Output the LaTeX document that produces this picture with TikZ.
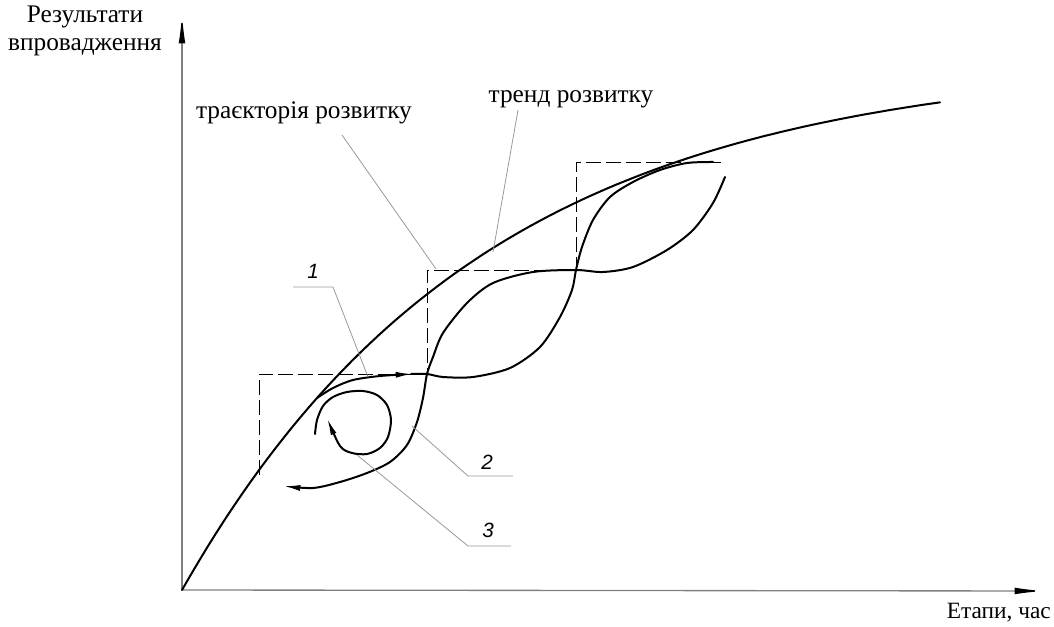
\documentclass[tikz,border=0pt]{standalone}
\usepackage{fontspec}
\setmainfont{Liberation Serif}
\newfontfamily\numfont{Liberation Sans}
\usetikzlibrary{arrows.meta}

\begin{document}
\begin{tikzpicture}[x=0.75pt, y=-0.75pt,
    curve/.style={line width=1.5pt, line join=round, line cap=round},
    leader/.style={gray!80, line width=0.6pt},
    axis/.style={gray, line width=1pt},
    stepline/.style={line width=0.7pt, dash pattern=on 11pt off 4pt},
    lbl/.style={font=\fontsize{19}{20.5}\selectfont, inner sep=0pt},
    num/.style={font=\numfont\itshape\fontsize{15.5}{17}\selectfont, inner sep=0pt},
    tip/.style={-{Latex[length=13pt, width=4.5pt]}}]
        \useasboundingbox (0,0) rectangle (1054,627);

        % Axes
        \coordinate (O) at (182,590);
        \coordinate (ytop) at (182,14);
        \coordinate (xend) at (1044,591);
        \draw[axis, -{Latex[length=22pt, width=5pt, color=black]}] (O) -- (ytop);
        \draw[axis, -{Latex[length=22pt, width=5pt, color=black]}] (O) -- (xend);
        \node[lbl, align=center] (ylab) at (85,31) {Результати\\впровадження};
        \node[lbl, font=\fontsize{17.5}{19}\selectfont, anchor=east] (xlab) at (1051,613) {Етапи, час};

        % Stages
        \draw[stepline] (259,475) -- (259,374) -- (427,374) -- (427,270)
            -- (576,270) -- (576,162) -- (722,162);

        % Trend
        \draw[curve] plot[domain=182:940, samples=90]
            (\x, {590-530*(1-exp(-(\x-182)/300))});

        % Trajectory 1
        \draw[curve, tip] plot[smooth] coordinates {(317,398) (333,388) (353,380)
            (380,376) (413,374)};
        \draw[curve] plot[smooth] coordinates {(411,374) (427,374) (443,377)
            (473,377) (510,368) (540,347) (560,317) (572,290) (576,270) (582,247)
            (593,220) (610,197) (633,182) (660,170) (687,163) (713,162)};

        % Trajectory 2
        \draw[curve, tip] plot[smooth] coordinates {(725,177) (713,203) (693,230)
            (667,250) (633,267) (603,272) (576,270) (533,272) (493,283) (467,303)
            (443,333) (433,357) (427,374) (423,398) (417,422) (407,445) (390,462)
            (367,473) (340,482) (313,488) (283,486)};

        % Loop 3
        \draw[curve, tip] plot[smooth] coordinates {(315,434) (317,420) (323,406)
            (333,397) (347,392) (363,391) (377,395) (387,405) (391,420) (388,437)
            (380,448) (367,454) (352,453) (340,446) (327,418)};

        % Labels
        \node[lbl] (trajlab) at (304,113) {траєкторія розвитку};
        \node[lbl] (trendlab) at (571,99) {тренд розвитку};
        \node[num] (n1) at (313,271) {1};
        \node[num] (n2) at (487,462) {2};
        \node[num] (n3) at (488,530) {3};

        \coordinate (trajA) at (342,135);
        \coordinate (trajB) at (436,269);
        \coordinate (trendA) at (518,110);
        \coordinate (trendB) at (493,252);
        \coordinate (s1) at (293,287);
        \coordinate (k1) at (333,287);
        \coordinate (e1) at (368,377);
        \coordinate (s2) at (513,476);
        \coordinate (k2) at (468,476);
        \coordinate (e2) at (412,426);
        \coordinate (s3) at (511,546);
        \coordinate (k3) at (468,546);
        \coordinate (e3) at (357,455);

        % Leaders
        \draw[leader] (trajA) -- (trajB);
        \draw[leader] (trendA) -- (trendB);
        \draw[leader] (s1) -- (k1) -- (e1);
        \draw[leader] (s2) -- (k2) -- (e2);
        \draw[leader] (s3) -- (k3) -- (e3);
    \end{tikzpicture}
\end{document}
